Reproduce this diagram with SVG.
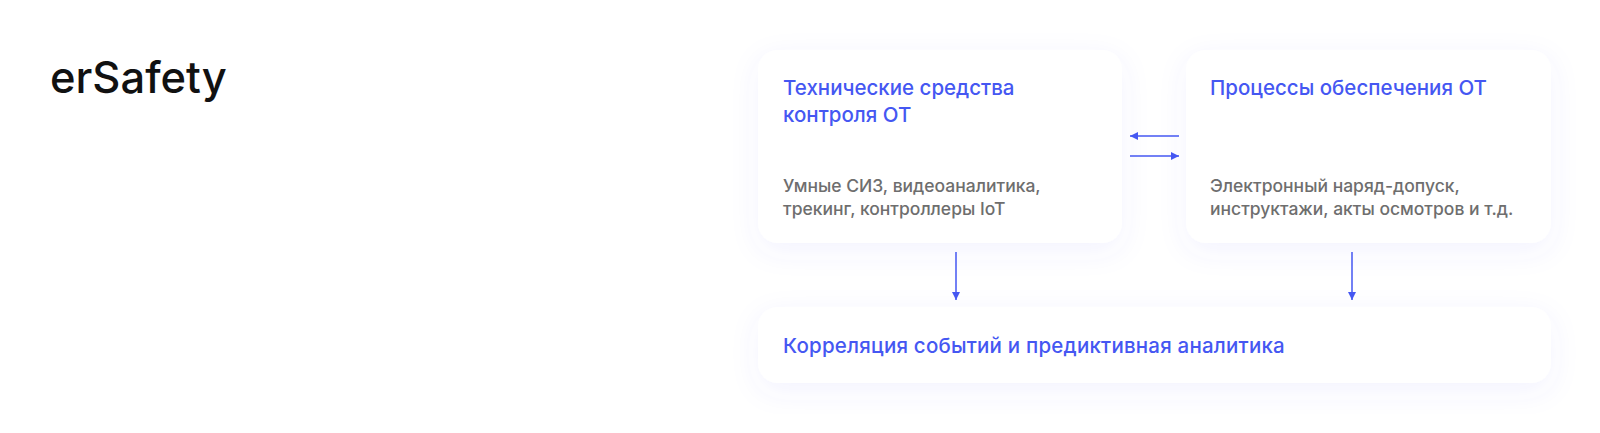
<svg xmlns="http://www.w3.org/2000/svg" width="1600" height="433" viewBox="0 0 1600 433">
  <style>
    .box { fill: #ffffff; filter: url(#glow); }
    .title { font-family: Inter, "Noto Sans", sans-serif; font-size: 20.5px; font-weight: 500; fill: #4557f2; }
    .body { font-family: Inter, "Noto Sans", sans-serif; font-size: 17.5px; font-weight: 500; fill: #6e6e6e; }
    .logo { font-family: Inter, "Noto Sans", sans-serif; font-size: 43.5px; font-weight: 500; fill: #111111; }
    .conn { stroke: #4557f2; stroke-width: 1.5; fill: none; marker-end: url(#ah); }
  </style>
  <defs>
    <filter id="glow" x="-20%" y="-40%" width="140%" height="180%">
      <feDropShadow dx="0" dy="8" stdDeviation="14" flood-color="#5a5af0" flood-opacity="0.07"/>
    </filter>
    <marker id="ah" viewBox="0 0 10 10" refX="10" refY="5" markerWidth="8" markerHeight="8" markerUnits="userSpaceOnUse" orient="auto">
      <path d="M0,0 L10,5 L0,10 Z" fill="#4557f2"/>
    </marker>
  </defs>
  <rect width="1600" height="433" fill="#ffffff"/>

  <g id="logo">
    <text class="logo" x="50" y="93">erSafety</text>
  </g>

  <g id="node-tech">
    <rect class="box" x="758" y="50" width="364" height="193" rx="20"/>
    <text class="title" x="783" y="95">Технические средства</text>
    <text class="title" x="783" y="122">контроля ОТ</text>
    <text class="body" x="783" y="192">Умные СИЗ, видеоаналитика,</text>
    <text class="body" x="783" y="215">трекинг, контроллеры IoT</text>
  </g>

  <g id="node-process">
    <rect class="box" x="1186" y="50" width="365" height="193" rx="20"/>
    <text class="title" x="1210" y="95">Процессы обеспечения ОТ</text>
    <text class="body" x="1210" y="192">Электронный наряд-допуск,</text>
    <text class="body" x="1210" y="215">инструктажи, акты осмотров и т.д.</text>
  </g>

  <g id="node-correlation">
    <rect class="box" x="758" y="307" width="793" height="76" rx="20"/>
    <text class="title" x="783" y="353" letter-spacing="0.21">Корреляция событий и предиктивная аналитика</text>
  </g>

  <g id="connectors">
    <line class="conn" x1="1179" y1="136" x2="1130" y2="136"/>
    <line class="conn" x1="1130" y1="156" x2="1179" y2="156"/>
    <line class="conn" x1="956" y1="252" x2="956" y2="300"/>
    <line class="conn" x1="1352" y1="252" x2="1352" y2="300"/>
  </g>
</svg>
